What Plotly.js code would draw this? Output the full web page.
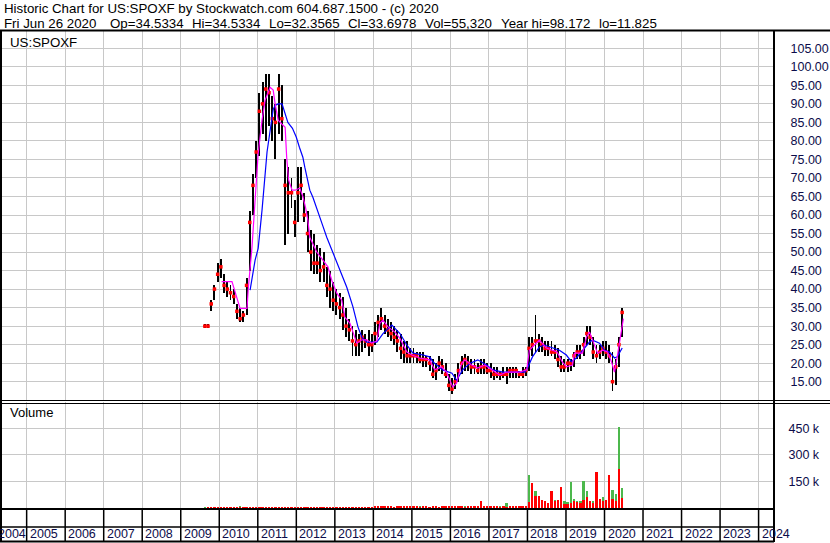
<!DOCTYPE html>
<html>
<head>
<meta charset="utf-8">
<script src="https://cdn.plot.ly/plotly-3.0.1.min.js"></script>
<style>html,body{margin:0;padding:0;background:#fff;}#chart{width:830px;height:543px;}</style>
</head>
<body>
<div id="chart"></div>
<script>
// ---------------- DATA ----------------
const monthLabels = [
 '2009-08','2009-09','2009-10','2009-11','2009-12',
 '2010-01','2010-02','2010-03','2010-04','2010-05','2010-06','2010-07','2010-08','2010-09','2010-10','2010-11','2010-12',
 '2011-01','2011-02','2011-03','2011-04','2011-05','2011-06','2011-07','2011-08','2011-09','2011-10','2011-11','2011-12',
 '2012-01','2012-02','2012-03','2012-04','2012-05','2012-06','2012-07','2012-08','2012-09','2012-10','2012-11','2012-12',
 '2013-01','2013-02','2013-03','2013-04','2013-05','2013-06','2013-07','2013-08','2013-09','2013-10','2013-11','2013-12',
 '2014-01','2014-02','2014-03','2014-04','2014-05','2014-06','2014-07','2014-08','2014-09','2014-10','2014-11','2014-12',
 '2015-01','2015-02','2015-03','2015-04','2015-05','2015-06','2015-07','2015-08','2015-09','2015-10','2015-11','2015-12',
 '2016-01','2016-02','2016-03','2016-04','2016-05','2016-06','2016-07','2016-08','2016-09','2016-10','2016-11','2016-12',
 '2017-01','2017-02','2017-03','2017-04','2017-05','2017-06','2017-07','2017-08','2017-09','2017-10','2017-11','2017-12',
 '2018-01','2018-02','2018-03','2018-04','2018-05','2018-06','2018-07','2018-08','2018-09','2018-10','2018-11','2018-12',
 '2019-01','2019-02','2019-03','2019-04','2019-05','2019-06','2019-07','2019-08','2019-09','2019-10','2019-11','2019-12',
 '2020-01','2020-02','2020-03','2020-04','2020-05','2020-06'
];
const highs = [
 30.5,30.5,37,41,47,
 48,44,42,41,40,36,35,34,43,61,71,80,
 93,96,98,98,92,90,98,95,75,73,70,64,
 73,73,66,61,56,55,52,51,50,46,45,42,
 40,39,38,35,32,30,29,28,29,28,29,28,
 31,33,35,33,32,31,30,29,28,26,26,24,
 24,23,23,23,22,22,21,20,22,21,20,17,
 16,17,20,22,22.5,22,21,21,20,21,21,20,
 20,19,19,18,19,19,19,19,19,18,19,19,
 27,27,33,28,27,26,26,26,25,24,22,21,
 21,21,23,25,25,27,30,30,27,25,25,26,
 26,25,23,21,27,35
];
const lows = [
 29.5,29.5,34,37,42,
 43,39,38,37,36,32,31,31,33,45,60,70,
 76,82,80,84,80,75,82,80,52,55,62,54,
 58,64,58,50,45,44,44,42,42,38,35,34,
 33,32,29,27,26,22,22,22,23,24,22,23,
 25,27,29,28,27,26,25,23,21,20,20,20,
 20,20,20,19,19,18,16,15.5,18,17,16,12.5,
 11.8,13,15,17,18,18,17,17,17,17,17,17,
 16,15.5,16,15.5,16,14.5,16,16,16,16,16,16.5,
 18,22,23,23,23,22,22,22,21,19,17.5,17.5,
 17.5,18,19,21,21,22,25,25,21,20,21,22,
 21,20,12.5,14,19,27
];
const closes = [
 30,30,36,40,44,
 46,41,40,39,38,34,32,33,41,58,68,77,
 88,90,94,93,86,85,94,86,68,66,66,58,
 66,68,60,55,50,47,47,45,46,41,40,37,
 36,35,33,30,29,26,25,26,27,26,25,25,
 28,31,32,30,29,28,27,26,24,23,22,22,
 22,22,21,21,21,20,17,18,20,19,17,14,
 13,15,18,20,21,20,19,19,18,19,19,18,
 18,17,17,17,17,17,18,18,18,17,17,18,
 24,25,26,26,25,24,24,23,23,21,19,19,
 20,20,22,23,23,25,28,27,23,22,23,24,
 23,22,15,19,25,33.7
];
// volume, thousands of shares (green = up, red = down)
const volUp = [
 3,2,4,3,2,
 4,3,6,3,3,5,10,4,3,5,4,3,
 3,3,4,3,3,4,3,3,3,4,3,3,
 3,3,3,3,4,3,3,3,3,3,3,4,
 4,5,5,4,5,6,5,4,5,6,8,6,
 7,6,8,7,9,8,6,7,8,7,6,8,
 9,8,10,12,9,8,14,9,8,10,9,8,
 9,10,8,9,10,8,9,10,9,15,10,12,
 10,8,9,14,8,30,10,8,9,8,9,10,
 186,30,95,20,20,15,20,58,45,30,30,40,
 35,148,50,40,40,155,95,35,40,30,40,60,
 40,60,103,80,459,113
];
const volDown = [
 2,3,3,4,3,
 3,4,3,4,5,3,4,5,5,4,5,4,
 5,4,5,4,5,4,5,5,4,5,4,4,
 4,4,5,4,4,5,4,4,5,5,4,4,
 5,6,6,5,6,8,6,5,6,7,6,7,
 12,9,10,11,9,10,8,9,11,10,9,12,
 10,9,8,10,9,8,9,10,8,9,10,9,
 10,9,10,9,8,9,10,9,10,40,14,12,
 12,10,9,8,10,8,9,12,9,10,11,9,
 36,142,65,65,45,40,30,94,40,45,117,20,
 25,30,40,35,30,45,60,40,30,205,50,40,
 45,186,50,40,221,55
];
// short moving average (magenta) – decimal years / price
const maFastX = [2010.06,2010.33,2010.54,2010.72,2010.75,2010.85,2010.93,2011.01,2011.11,2011.19,2011.32,2011.40,2011.45,2011.53,2011.63,2011.71,2011.75,2011.80,2011.89,2011.97,2012.09,2012.17,2012.24,2012.30,2012.35,2012.43,2012.53,2012.69,2012.82,2012.92,2013.05,2013.18,2013.26,2013.39,2013.47,2013.57,2013.70,2013.83,2013.96,2014.09,2014.17,2014.25,2014.38,2014.56,2014.69,2014.87,2015.00,2015.20,2015.46,2015.59,2015.77,2015.90,2016.06,2016.16,2016.29,2016.37,2016.55,2016.71,2016.89,2017.07,2017.28,2017.46,2017.79,2017.98,2018.05,2018.18,2018.31,2018.49,2018.65,2018.77,2018.90,2019.01,2019.17,2019.22,2019.43,2019.53,2019.61,2019.69,2019.82,2019.95,2020.08,2020.18,2020.26,2020.33,2020.44,2020.49];
const maFastY = [42,42,34.8,34.8,39.7,51.4,64,76.6,85.6,91,94.5,93.7,90,85.6,84.5,83.7,75.6,69.4,66.7,66.7,67.3,65,62,58.6,54,52.4,50,47.8,46,42.4,38.9,37,32.4,30.8,28.4,25.4,26.3,26.3,25.4,26,30.8,31.6,29.8,28.4,26.7,23,22.2,21.4,20.9,18.2,19,17.6,13.6,14.6,19.9,20.9,19.5,18.7,19.5,18.2,16.8,17.6,17.6,18.2,23.5,24.9,26.2,24.1,23.5,23,20.4,19,19.5,22.7,22.7,27,28.4,26.2,22.7,23.5,23,20.4,17.6,21.7,28,32];
// long moving average (blue)
const maSlowX = [2010.80,2010.93,2011.01,2011.11,2011.24,2011.32,2011.40,2011.45,2011.53,2011.63,2011.71,2011.78,2011.90,2012.00,2012.08,2012.17,2012.22,2012.35,2012.43,2012.53,2012.61,2012.69,2012.79,2012.87,2012.95,2013.13,2013.31,2013.47,2013.60,2013.70,2013.83,2014.09,2014.25,2014.48,2014.69,2014.87,2015.03,2015.29,2015.46,2015.55,2015.80,2016.04,2016.16,2016.32,2016.50,2016.71,2016.94,2017.10,2017.36,2017.93,2018.00,2018.13,2018.31,2018.44,2018.65,2018.83,2019.01,2019.14,2019.27,2019.43,2019.61,2019.69,2019.87,2020.00,2020.13,2020.26,2020.33,2020.46];
const maSlowY = [39.7,47.8,51,61.3,77,83,88.5,89.6,90,90,87.5,85,83.4,81,78.3,75.6,72.9,66.7,64.8,62,59.4,57,54,52,49.7,45.1,40.5,35.2,29.8,27,25.7,25.7,28,30.3,28,24.9,22.7,22.2,21.7,20.3,18.2,17.3,15.4,18.2,19.9,20.9,19.5,18.2,17.6,17.6,18.7,21.7,24.4,24.9,24.1,23.5,22.2,20.4,21.4,23.5,25.7,26.2,25.4,23.5,23,21.4,21.7,24.1];
const priceTicks = [15,20,25,30,35,40,45,50,55,60,65,70,75,80,85,90,95,100,105];
const volTicks = [150000,300000,450000];
const volTickText = ['150 k','300 k','450 k'];
const years = [2005,2006,2007,2008,2009,2010,2011,2012,2013,2014,2015,2016,2017,2018,2019,2020,2021,2022,2023,2024];
const headerTitle = 'Historic Chart for US:SPOXF by Stockwatch.com 604.687.1500 - (c) 2020';
const headerFields = ['Fri Jun 26 2020','Op=34.5334','Hi=34.5334','Lo=32.3565','Cl=33.6978','Vol=55,320','Year hi=98.172','lo=11.825'];
const symbolLabel = 'US:SPOXF';

// ---------------- LAYOUT HELPERS ----------------
const W = 830, H = 543;
const PX = p => p / W;
const PY = p => 1 - p / H;
const monthX = monthLabels.map(s => { const [y, m] = s.split('-').map(Number); return y + (m - 0.5) / 12; });
const FONT = 'Liberation Sans, Arial, sans-serif';
const NAVY = '#0c0c4a';

const traces = [
  { type: 'bar', x: monthX, base: lows, y: highs.map((h, i) => h - lows[i]), width: 0.05,
    marker: { color: '#000000', line: { width: 0 } }, xaxis: 'x', yaxis: 'y', hoverinfo: 'skip' },
  { type: 'scatter', mode: 'markers', x: monthX, y: closes,
    marker: { symbol: 'square', size: 3.5, color: '#ff0000', line: { width: 0 } }, xaxis: 'x', yaxis: 'y' },
  { type: 'scatter', mode: 'lines', x: maSlowX, y: maSlowY, line: { color: '#0000ff', width: 1.2 }, xaxis: 'x', yaxis: 'y' },
  { type: 'scatter', mode: 'lines', x: maFastX, y: maFastY, line: { color: '#ff00ff', width: 1.2 }, xaxis: 'x', yaxis: 'y' },
  { type: 'bar', x: monthX, y: volUp.map(v => v * 1000), width: 0.06,
    marker: { color: '#4cb84c', line: { width: 0 } }, xaxis: 'x2', yaxis: 'y2' },
  { type: 'bar', x: monthX, y: volDown.map(v => v * 1000), width: 0.06,
    marker: { color: '#ff0000', line: { width: 0 } }, xaxis: 'x2', yaxis: 'y2' }
];

const shapes = [];
const hline = (y, x0, x1, w) => shapes.push({ type: 'line', xref: 'paper', yref: 'paper', x0: PX(x0), x1: PX(x1), y0: PY(y), y1: PY(y), line: { color: '#000', width: w } });
const vline = (x, y0, y1, w) => shapes.push({ type: 'line', xref: 'paper', yref: 'paper', x0: PX(x), x1: PX(x), y0: PY(y0), y1: PY(y1), line: { color: '#000', width: w } });
hline(30.5, 0, 830, 2);
hline(400.5, 0, 830, 1.2);
hline(403.5, 0, 830, 1.2);
hline(509, 0, 774, 2);
hline(527, 0, 774, 1.5);
hline(541.5, 0, 774, 2);
vline(1, 31, 542, 2);
vline(774, 31, 542, 2);
years.forEach(y => shapes.push({ type: 'line', xref: 'x', yref: 'paper', x0: y, x1: y, y0: PY(509), y1: PY(541.5), line: { color: '#000', width: 1.5 } }));

const annotations = [];
const txt = (text, x, y, size, color, anchor) => annotations.push({ text, xref: 'paper', yref: 'paper', x: PX(x), y: PY(y), xanchor: anchor || 'left', yanchor: 'middle', showarrow: false, font: { family: FONT, size, color } });
txt(headerTitle, 2, 9, 13.3, '#000');
const fieldX = [2, 108, 190, 267, 346, 423, 499, 597];
headerFields.forEach((f, i) => txt(f, fieldX[i], 23, 13.3, '#000'));
txt(symbolLabel, 8, 42, 13.3, '#000');
txt('Volume', 8, 413, 13, '#000');
const yearFont = { family: FONT, size: 12.5, color: NAVY };
years.forEach(y => annotations.push({ text: String(y), xref: 'x', yref: 'paper', x: y, y: PY(534), xanchor: 'left', yanchor: 'middle', xshift: 1, showarrow: false, font: yearFont }));
annotations.push({ text: '2004', xref: 'x', yref: 'paper', x: years[0], y: PY(534), xanchor: 'right', yanchor: 'middle', xshift: 1, showarrow: false, font: yearFont });

const xBase = { range: [2004.36, 2024.40], domain: [PX(2), PX(774)], tickvals: years, showticklabels: false, ticks: '',
  showgrid: true, gridcolor: '#c8c8c8', gridwidth: 1, zeroline: false, showline: false, fixedrange: true };
const layout = {
  width: W, height: H, margin: { l: 0, r: 0, t: 0, b: 0 }, paper_bgcolor: '#fff', plot_bgcolor: '#fff',
  showlegend: false, barmode: 'overlay', bargap: 0,
  xaxis: Object.assign({}, xBase, { anchor: 'y' }),
  xaxis2: Object.assign({}, xBase, { anchor: 'y2', matches: 'x' }),
  yaxis: { domain: [PY(400), PY(31)], range: [10.06, 109.67], side: 'right', anchor: 'x', tickvals: priceTicks, tickformat: '.2f',
    ticks: 'outside', ticklen: 13, tickcolor: 'rgba(0,0,0,0)', showgrid: true, gridcolor: '#c8c8c8', gridwidth: 1,
    zeroline: false, showline: false, tickfont: { family: FONT, size: 12.5, color: NAVY } },
  yaxis2: { domain: [PY(508), PY(402)], range: [0, 598000], side: 'right', anchor: 'x2', tickvals: volTicks, ticktext: volTickText,
    ticks: 'outside', ticklen: 11, tickcolor: 'rgba(0,0,0,0)', showgrid: true, gridcolor: '#c8c8c8', gridwidth: 1,
    zeroline: false, showline: false, tickfont: { family: FONT, size: 12.5, color: NAVY } },
  shapes, annotations
};
Plotly.newPlot('chart', traces, layout, { staticPlot: true, displayModeBar: false });
</script>
</body>
</html>
